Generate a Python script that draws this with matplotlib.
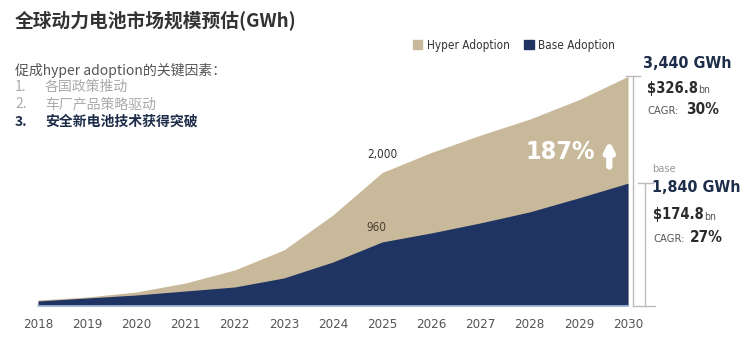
import matplotlib.pyplot as plt
import matplotlib.patches as mpatches

# 数据 (GWh)
years = [2018, 2019, 2020, 2021, 2022, 2023, 2024, 2025, 2026, 2027, 2028, 2029, 2030]
base_adoption = [75, 120, 165, 225, 285, 420, 660, 960, 1095, 1245, 1410, 1620, 1840]
hyper_adoption = [90, 135, 210, 345, 540, 840, 1365, 2000, 2300, 2560, 2800, 3090, 3440]

factors = ['各国政策推动', '车厂产品策略驱动', '安全新电池技术获得突破']

BEIGE = '#C9B99B'
NAVY = '#1F3462'
CJK = ['Noto Sans CJK SC', 'DejaVu Sans']
NARROW = dict(family='DejaVu Sans', stretch='condensed')

plt.rcParams['font.family'] = CJK
plt.rcParams['axes.unicode_minus'] = False

fig = plt.figure(figsize=(7.44, 3.51), dpi=100)
ax = fig.add_axes([38 / 744, 45 / 351, 590 / 744, 267 / 351])

ax.fill_between(years, 0, hyper_adoption, color=BEIGE, lw=0)
ax.fill_between(years, 0, base_adoption, color=NAVY, lw=0)

ax.set_xlim(2018, 2030)
ax.set_ylim(0, 4000)
ax.set_xticks(years)
ax.set_xticklabels([str(y) for y in years], fontsize=9.5, color='#555555', **NARROW)
ax.tick_params(axis='x', length=0, pad=9)
ax.set_yticks([])
for s in ['top', 'right', 'left']:
    ax.spines[s].set_visible(False)
ax.spines['bottom'].set_color('#A9C4DD')
ax.spines['bottom'].set_linewidth(1.2)

# 数据标签
i25 = years.index(2025)
ax.annotate(f'{hyper_adoption[i25]:,}', (2025, hyper_adoption[i25]), xytext=(0, 8),
            textcoords='offset points', ha='center', va='bottom',
            fontsize=8.5, color='#333333', **NARROW)
ax.annotate(f'{base_adoption[i25]:,}', (2025, base_adoption[i25]), xytext=(-4, 6),
            textcoords='offset points', ha='center', va='bottom',
            fontsize=8.5, color='#4a4030', **NARROW)

# 187% 和箭头
ax.text(2028.62, 2310, '187%', ha='center', va='center', fontsize=18,
        fontweight='bold', color='white', **NARROW)
ax.annotate('', xy=(2029.62, 2480), xytext=(2029.62, 2090),
            arrowprops=dict(arrowstyle='-|>', lw=4.5, color='white',
                            mutation_scale=13, shrinkA=0, shrinkB=0))

# 右侧括号线
ax.plot([2030.1, 2030.1], [0, hyper_adoption[-1]], color='#BBBBBB', lw=1, clip_on=False)
ax.plot([2029.95, 2030.25], [hyper_adoption[-1]] * 2, color='#BBBBBB', lw=1, clip_on=False)
ax.plot([2030.35, 2030.35], [0, base_adoption[-1]], color='#BBBBBB', lw=1, clip_on=False)
ax.plot([2030.2, 2030.5], [base_adoption[-1]] * 2, color='#BBBBBB', lw=1, clip_on=False)
ax.plot([2030.1, 2030.55], [0, 0], color='#BBBBBB', lw=1, clip_on=False)

# 右侧文字
def fy(py):
    return 1 - py / 351

fig.text(643 / 744, fy(64), f'{hyper_adoption[-1]:,} GWh', fontsize=11.5,
         fontweight='bold', color='#1E2D4A', va='center', **NARROW)
fig.text(647 / 744, fy(88), '$326.8', fontsize=10.5,
         fontweight='bold', color='#2b2b2b', va='center', **NARROW)
fig.text(698 / 744, fy(90), 'bn', fontsize=7.5, color='#555555', va='center', **NARROW)
fig.text(647 / 744, fy(111), 'CAGR:', fontsize=8, color='#555555', va='center', **NARROW)
fig.text(686 / 744, fy(110), '30%', fontsize=11, fontweight='bold',
         color='#2b2b2b', va='center', **NARROW)

fig.text(652 / 744, fy(169), 'base', fontsize=8, color='#999999', va='center', **NARROW)
fig.text(652 / 744, fy(188), f'{base_adoption[-1]:,} GWh', fontsize=11.5,
         fontweight='bold', color='#1E2D4A', va='center', **NARROW)
fig.text(653 / 744, fy(215), '$174.8', fontsize=10.5,
         fontweight='bold', color='#2b2b2b', va='center', **NARROW)
fig.text(704 / 744, fy(217), 'bn', fontsize=7.5, color='#555555', va='center', **NARROW)
fig.text(653 / 744, fy(239), 'CAGR:', fontsize=8, color='#555555', va='center', **NARROW)
fig.text(690 / 744, fy(238), '27%', fontsize=11, fontweight='bold',
         color='#2b2b2b', va='center', **NARROW)

# 图例
handles = [mpatches.Patch(color=BEIGE, label='Hyper Adoption'),
           mpatches.Patch(color=NAVY, label='Base Adoption')]
fig.legend(handles=handles, loc='center', bbox_to_anchor=(514 / 744, fy(45)), ncol=2,
           frameon=False, prop={'family': 'DejaVu Sans', 'stretch': 'condensed', 'size': 8.5},
           handlelength=0.8, handleheight=0.8, columnspacing=1.2, handletextpad=0.4,
           labelcolor='#333333')

# 标题和说明
fig.text(15 / 744, fy(20), '全球动力电池市场规模预估(GWh)', fontsize=13.5,
         fontweight='bold', color='#333333', va='center')
fig.text(15 / 744, fy(70), '促成hyper adoption的关键因素：', fontsize=10,
         color='#555555', va='center')
for i, f in enumerate(factors):
    last = i == len(factors) - 1
    col = '#1E2D4A' if last else '#AAAAAA'
    fw = 'bold' if last else 'normal'
    y = fy(87 + 17.5 * i)
    fig.text(15 / 744, y, f'{i + 1}.', fontsize=10, color=col, fontweight=fw, va='center')
    fig.text(45 / 744, y, f, fontsize=10, color=col, fontweight=fw, va='center')

fig.savefig('out.png', dpi=100)
